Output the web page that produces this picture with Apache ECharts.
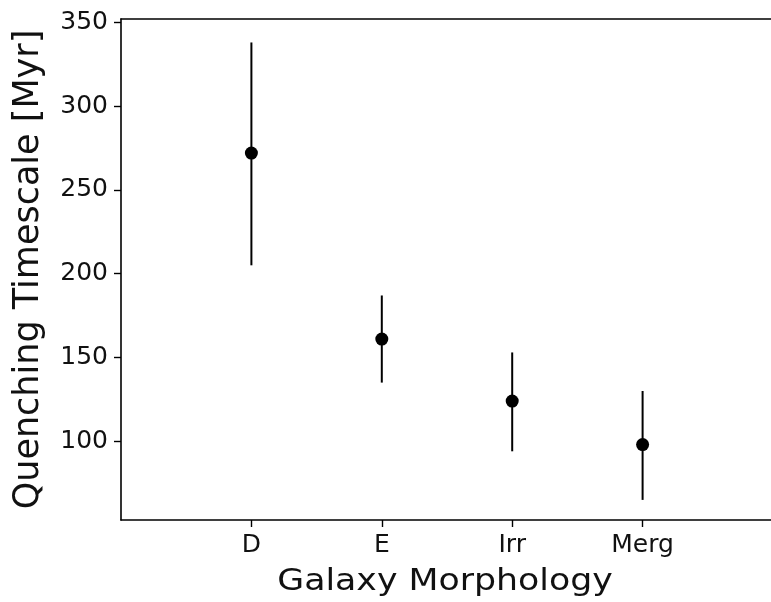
<!DOCTYPE html>
<html>
<head>
<meta charset="utf-8">
<script src="https://cdn.jsdelivr.net/npm/echarts@6/dist/echarts.min.js"></script>
<style>
  html, body { margin: 0; padding: 0; background: #fff; }
  #chart { width: 771px; height: 602px; }
</style>
</head>
<body>
<div id="chart"></div>
<script>
// Quenching timescale per galaxy morphology class, with 1-sigma ranges
const categories = ['D', 'E', 'Irr', 'Merg'];
const timescale = [272, 161, 124, 98];
const lowerBound = [205, 135, 94, 65];
const upperBound = [338, 187, 153, 130];
const yTicks = [100, 150, 200, 250, 300, 350];
const xTicks = [0, 1, 2, 3];
const xTitle = 'Galaxy Morphology';
const yTitle = 'Quenching Timescale [Myr]';

const FONT = 'DejaVu Sans';

const points = categories.map((c, i) => [i, timescale[i]]);
const bars = categories.map((c, i) => [i, lowerBound[i], upperBound[i]]);

const chart = echarts.init(document.getElementById('chart'), null, { renderer: 'canvas' });

const spine = { show: true, onZero: false, lineStyle: { color: '#000', width: 1.6 } };

chart.setOption({
  backgroundColor: '#fff',
  animation: false,
  grid: {
    left: 121, top: 19, right: -2, bottom: 82,
    outerBoundsMode: 'none', containLabel: false, show: false
  },
  // wide x-axis title, stretched horizontally
  graphic: [{
    type: 'text',
    x: 445, y: 582,
    scaleX: 1.12, scaleY: 1,
    style: {
      text: xTitle, fontFamily: FONT, fontSize: 31, fill: '#111',
      textAlign: 'center', textVerticalAlign: 'middle'
    }
  }],
  xAxis: [
    {
      type: 'value', min: -1, max: 4,
      axisLine: spine,
      axisTick: { show: true, length: 7, lineStyle: { color: '#000', width: 1.4 }, customValues: xTicks },
      axisLabel: {
        customValues: xTicks, margin: 13,
        fontFamily: FONT, fontSize: 25, color: '#111',
        formatter: v => categories[v] || ''
      },
      splitLine: { show: false }
    },
    {
      // top spine of the frame
      type: 'value', min: -1, max: 4, position: 'top',
      axisLine: spine,
      axisTick: { show: false }, axisLabel: { show: false }, splitLine: { show: false }
    }
  ],
  yAxis: {
    type: 'value', min: 53, max: 352,
    axisLine: spine,
    axisTick: { show: true, length: 7, lineStyle: { color: '#000', width: 1.4 }, customValues: yTicks },
    axisLabel: { customValues: yTicks, margin: 13, fontFamily: FONT, fontSize: 25, color: '#111' },
    splitLine: { show: false },
    name: yTitle, nameLocation: 'middle', nameGap: 75, nameRotate: 90,
    nameTextStyle: { fontFamily: FONT, fontSize: 35, color: '#111' }
  },
  series: [
    {
      type: 'custom',
      data: bars,
      encode: { x: 0, y: [1, 2] },
      renderItem: (params, api) => {
        const lo = api.coord([api.value(0), api.value(1)]);
        const hi = api.coord([api.value(0), api.value(2)]);
        return {
          type: 'line',
          shape: { x1: lo[0], y1: lo[1], x2: hi[0], y2: hi[1] },
          style: { stroke: '#000', lineWidth: 2 }
        };
      },
      z: 2
    },
    {
      type: 'scatter',
      data: points,
      symbol: 'circle',
      symbolSize: 13,
      itemStyle: { color: '#000', opacity: 1 },
      z: 3
    }
  ]
});
</script>
</body>
</html>
